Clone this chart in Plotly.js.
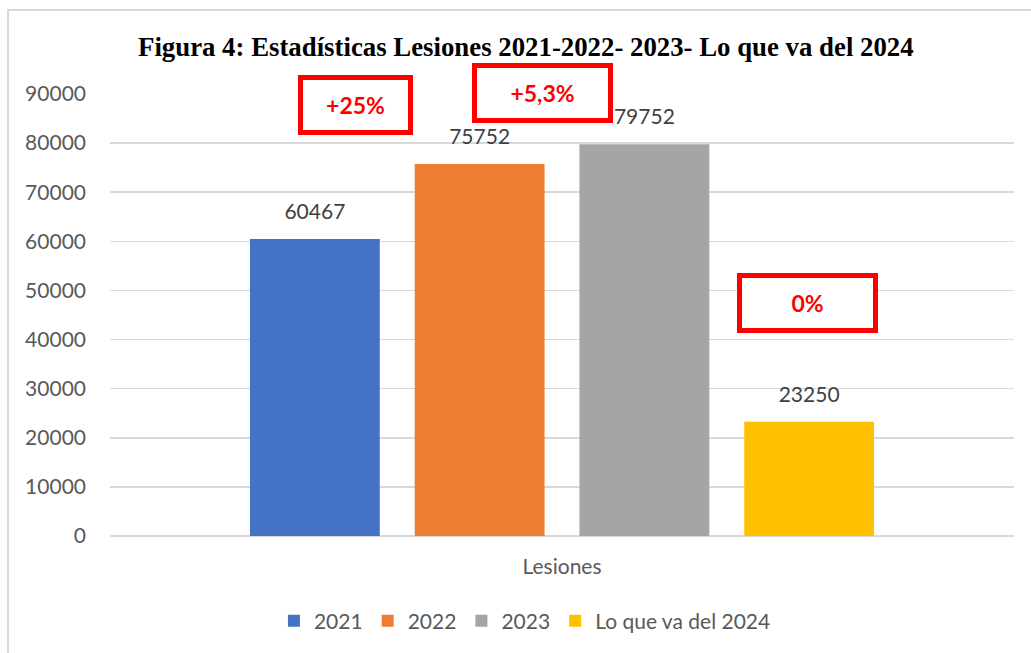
<!DOCTYPE html>
<html>
<head>
<meta charset="utf-8">
<script src="https://cdn.plot.ly/plotly-3.0.1.min.js"></script>
<style>
  html, body { margin: 0; padding: 0; background: #fff; }
  #wrap { position: relative; width: 1031px; height: 653px; overflow: hidden; }
  #chart { width: 1031px; height: 653px; }
  #frame { position: absolute; left: 7px; top: 9px; width: 1100px; height: 700px;
           border-left: 2px solid #d9d9d9; border-top: 2px solid #d9d9d9; pointer-events: none; }
</style>
</head>
<body>
<div id="wrap">
  <div id="chart"></div>
  <div id="frame"></div>
</div>
<script>
const categories = ["Lesiones"];
const seriesNames = ["2021", "2022", "2023", "Lo que va del 2024"];
const values2021 = [60467];
const values2022 = [75752];
const values2023 = [79752];
const values2024 = [23250];
const seriesColors = ["#4472c4", "#ed7d31", "#a5a5a5", "#ffc000"];
const changeLabels = ["+25%", "+5,3%", "0%"];

const allValues = [values2021, values2022, values2023, values2024];
const font = "Lato, 'Open Sans', sans-serif";

const barTraces = allValues.map((vals, i) => ({
  type: "bar",
  name: seriesNames[i],
  x: categories,
  y: vals,
  marker: { color: seriesColors[i] },
  hoverinfo: "y+name"
}));

const labelTraces = allValues.map((vals, i) => ({
  type: "scatter",
  mode: "markers+text",
  name: seriesNames[i] + " etiqueta",
  x: categories,
  y: vals,
  text: vals.map(v => String(v)),
  textposition: "top center",
  textfont: { family: font, size: 21, color: "#404040" },
  marker: { size: 22, opacity: 0, color: seriesColors[i] },
  cliponaxis: false,
  showlegend: false,
  hoverinfo: "skip"
}));

const boxStyle = {
  showarrow: false,
  xref: "paper", yref: "paper",
  font: { family: font, size: 23, color: "#ff0000", weight: "bold" },
  bgcolor: "#ffffff",
  bordercolor: "#ff0000",
  borderwidth: 5,
  borderpad: 0,
  xanchor: "center", yanchor: "middle"
};

const annotations = [
  Object.assign({}, boxStyle, { x: 0.2716, y: 0.9752, text: "<b>" + changeLabels[0] + "</b>", width: 105, height: 50 }),
  Object.assign({}, boxStyle, { x: 0.4784, y: 1.0023, text: "<b>" + changeLabels[1] + "</b>", width: 131, height: 50 }),
  Object.assign({}, boxStyle, { x: 0.7716, y: 0.5282, text: "<b>" + changeLabels[2] + "</b>", width: 131, height: 50 })
];

const layout = {
  width: 1031, height: 653,
  margin: { l: 110, r: 17, t: 94, b: 116 },
  paper_bgcolor: "#ffffff",
  plot_bgcolor: "#ffffff",
  barmode: "group",
  bargap: 0.271,
  bargroupgap: 0.212,
  scattermode: "group",
  scattergap: 0.271,
  title: {
    text: "<b>Figura 4: Estadísticas Lesiones 2021-2022- 2023- Lo que va del 2024</b>",
    font: { family: "'Liberation Serif', 'Times New Roman', serif", size: 26.8, color: "#000000" },
    x: 0.460, xanchor: "center", xref: "paper",
    y: 1 - 47 / 653, yref: "container", yanchor: "middle"
  },
  xaxis: {
    type: "category",
    showgrid: false, showline: false, zeroline: false,
    ticks: "",
    ticklabelstandoff: 16,
    tickfont: { family: font, size: 21, color: "#595959" }
  },
  yaxis: {
    range: [0, 90000],
    dtick: 10000,
    showgrid: true, gridcolor: "#d9d9d9", gridwidth: 1.5,
    zeroline: true, zerolinecolor: "#d9d9d9", zerolinewidth: 1.5,
    showline: false, ticks: "",
    tickformat: "d",
    ticklabelstandoff: 23,
    tickfont: { family: font, size: 21, color: "#595959" }
  },
  legend: {
    orientation: "h",
    x: 0.459, xanchor: "center",
    y: -0.19, yanchor: "middle",
    font: { family: font, size: 21, color: "#595959" },
    itemwidth: 30,
    traceorder: "normal"
  },
  annotations: annotations,
  showlegend: true
};

Plotly.newPlot("chart", barTraces.concat(labelTraces), layout, { displayModeBar: false, staticPlot: true });
</script>
</body>
</html>
